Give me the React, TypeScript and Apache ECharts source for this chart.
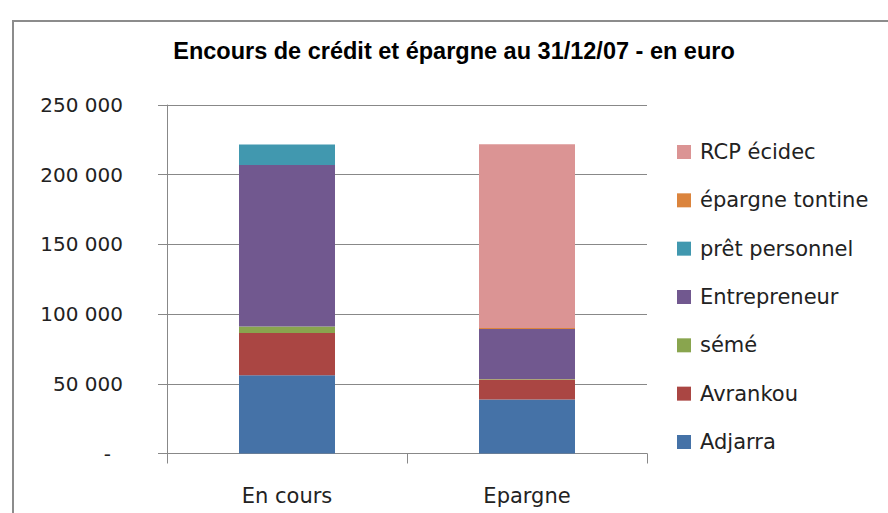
import React, { useEffect, useRef } from "react";
import * as echarts from "echarts";

const categories = ["En cours", "Epargne"];
const seriesNames = ["Adjarra", "Avrankou", "sémé", "Entrepreneur", "prêt personnel", "épargne tontine", "RCP écidec"];
const adjarra = [56200, 38800];
const avrankou = [30300, 14200];
const seme = [4600, 500];
const entrepreneur = [115900, 35900];
const pretPersonnel = [14600, 0];
const epargneTontine = [0, 700];
const rcpEcidec = [0, 131800];
const seriesValues = [adjarra, avrankou, seme, entrepreneur, pretPersonnel, epargneTontine, rcpEcidec];
const colors = ["#4572A7", "#AA4643", "#89A54E", "#71588F", "#4198AF", "#DB843D", "#DB9494"];
const legendOrder = ["RCP écidec", "épargne tontine", "prêt personnel", "Entrepreneur", "sémé", "Avrankou", "Adjarra"];
const yTicks = [0, 50000, 100000, 150000, 200000, 250000];

const FONT = "'DejaVu Sans', sans-serif";
const TITLE_FONT = "'Liberation Sans', Arial, sans-serif";

function fmt(v: number): string {
  if (v === 0) return "{dash|-}";
  return String(v).replace(/\B(?=(\d{3})+(?!\d))/g, " ");
}

export default function App() {
  const ref = useRef<HTMLDivElement>(null);
  useEffect(() => {
    if (!ref.current) return;
    const chart = echarts.init(ref.current, undefined, { renderer: "svg" });
    chart.setOption({
      animation: false,
      backgroundColor: "#ffffff",
      title: {
        text: "Encours de crédit et épargne au 31/12/07 - en euro",
        left: 454,
        textAlign: "center",
        top: 39,
        padding: 0,
        textStyle: { fontFamily: TITLE_FONT, fontSize: 23.5, fontWeight: "bold", color: "#000" },
      },
      graphic: [
        {
          type: "rect",
          shape: { x: 13, y: 21, width: 1000, height: 1000 },
          style: { fill: "none", stroke: "#8c8c8c", lineWidth: 2 },
          silent: true,
        },
      ],
      legend: {
        orient: "vertical",
        left: 677,
        top: 141,
        padding: 0,
        data: legendOrder,
        icon: "rect",
        itemWidth: 14,
        itemHeight: 14,
        itemGap: 26.33,
        textStyle: { fontFamily: FONT, fontSize: 21, color: "#222", lineHeight: 22, padding: [0, 0, 0, 4] },
      },
      grid: { left: 167, right: 241, top: 105, bottom: 59.5 },
      xAxis: {
        type: "category",
        data: categories,
        axisLine: { lineStyle: { color: "#888", width: 1 } },
        axisTick: { show: true, length: 10, lineStyle: { color: "#888" } },
        axisLabel: { margin: 32, fontFamily: FONT, fontSize: 21, color: "#222" },
      },
      yAxis: {
        type: "value",
        min: yTicks[0],
        max: yTicks[yTicks.length - 1],
        interval: 50000,
        axisLine: { show: true, lineStyle: { color: "#888", width: 1 } },
        axisTick: { show: true, length: 9, lineStyle: { color: "#888" } },
        splitLine: { lineStyle: { color: "#888", width: 1 } },
        axisLabel: {
          margin: 44,
          fontFamily: FONT,
          fontSize: 20,
          color: "#222",
          formatter: (v: number) => fmt(v),
          rich: { dash: { fontFamily: FONT, fontSize: 20, color: "#222", padding: [0, 12, 0, 0] } },
        },
      },
      series: seriesNames.map((name, i) => ({
        name,
        type: "bar",
        stack: "total",
        barWidth: 96,
        data: seriesValues[i],
        itemStyle: { color: colors[i] },
      })),
    });
    return () => chart.dispose();
  }, []);
  return (
    <div
      ref={ref}
      style={{ position: "absolute", left: 0, top: 0, width: 888, height: 513 }}
    />
  );
}
